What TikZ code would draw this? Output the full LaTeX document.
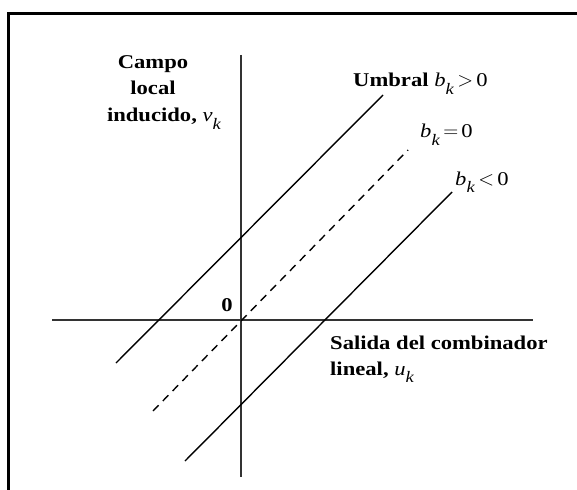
\documentclass[tikz,border=0pt]{standalone}
\usepackage{amsmath}
\usepackage{fontspec}
\setmainfont{Liberation Serif}[FakeStretch=1.16]
\usepackage{tikz}
\usetikzlibrary{positioning}

\newcommand{\symvar}[2]{\textit{#1}\raisebox{-0.38em}{\fontsize{16}{16}\selectfont\textit{#2}}}

\begin{document}
\begin{tikzpicture}[
    x=1pt, y=-1pt,
    axis/.style={line width=2pt, black!80},
    recta/.style={line width=1.4pt},
    lbl/.style={font=\fontsize{19.5}{22}\selectfont, inner sep=0pt}
]
    \useasboundingbox (0,0) rectangle (577,489);

    % Frame
    \draw[line width=3pt] (8,495) -- (8,14) -- (585,14);

    % Axes
    \coordinate (ytop) at (241,55);
    \coordinate (ybot) at (241,477);
    \coordinate (xleft) at (52,320);
    \coordinate (xright) at (533,320);
    \draw[axis] (ytop) -- (ybot);
    \draw[axis] (xleft) -- (xright);

    % Lines for the three bias values
    \coordinate (posbot) at (116,363);
    \coordinate (postop) at (383,95);
    \coordinate (zerobot) at (153,411);
    \coordinate (zerotop) at (408,150);
    \coordinate (negbot) at (185,461);
    \coordinate (negtop) at (452,192);
    \draw[recta] (posbot) -- (postop);
    \draw[recta, dash pattern=on 8pt off 6pt] (zerobot) -- (zerotop);
    \draw[recta] (negbot) -- (negtop);

    % Labels
    \node[lbl, anchor=base west] (umbral) at (353,87) {\textbf{Umbral} \symvar{b}{k}\,$>$\,0};
    \node[lbl, anchor=base west] (bzero) at (420,138) {\symvar{b}{k}\,$=$\,0};
    \node[lbl, anchor=base west] (bneg) at (455,185) {\symvar{b}{k}\,$<$\,0};
    \node[lbl, anchor=base] (origin) at (227,311) {\textbf{0}};

    \node[lbl, anchor=base] (campo) at (153,69) {\textbf{Campo}};
    \node[lbl, anchor=base] (local) at (153,95) {\textbf{local}};
    \node[lbl, anchor=base] (inducido) at (152,122) {\textbf{inducido,}\rlap{ \symvar{v}{k}}};

    \node[lbl, anchor=base west] (salida) at (330,349) {\textbf{Salida del combinador}};
    \node[lbl, anchor=base west] (lineal) at (330,375) {\textbf{lineal,} \symvar{u}{k}};
\end{tikzpicture}
\end{document}
